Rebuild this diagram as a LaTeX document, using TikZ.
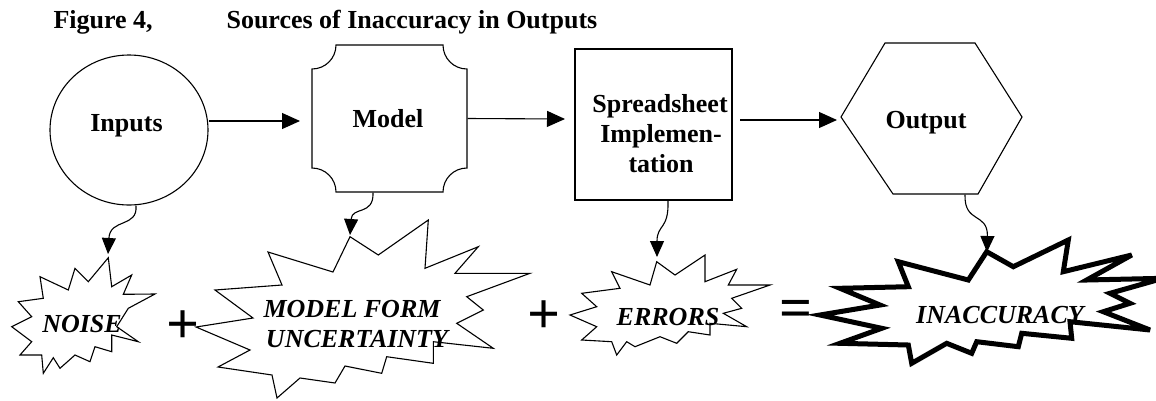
\documentclass[tikz,border=0pt]{standalone}
\usepackage{fontspec}
\setmainfont{Liberation Serif}
\usetikzlibrary{arrows.meta,shapes.geometric}
\begin{document}
\begin{tikzpicture}[x=1pt,y=-1pt,
  line width=1.1pt,
  lbl/.style={font=\fontsize{26}{30}\selectfont\bfseries, inner sep=0pt, anchor=base},
  starlbl/.style={font=\fontsize{26}{30}\selectfont\bfseries\itshape, inner sep=0pt, anchor=base},
  opsign/.style={font=\fontsize{58}{60}\selectfont\bfseries, inner sep=0pt},
  arr/.style={-{Triangle[length=18pt,width=16pt]}, line width=1.1pt},
  carr/.style={-{Triangle[length=16pt,width=14pt]}, line width=1.1pt},
  starline/.style={line width=1.1pt, line join=miter},
  boldstar/.style={line width=5pt, line join=miter, miter limit=6}]
\useasboundingbox (0,0) rectangle (1156,400);

% title
\node[lbl, anchor=base west] (fig) at (53,28) {Figure 4,};
\node[lbl, anchor=base west] (title) at (226,28) {Sources of Inaccuracy in Outputs};

% Inputs
\node[ellipse, draw, minimum width=158pt, minimum height=150pt, inner sep=0pt] (inputs) at (129,130) {};
\node[lbl] (inputsT) at (126.5,131) {Inputs};

% Model (concave corners)
\node[minimum width=155pt, minimum height=147pt, inner sep=0pt] (model) at (389.5,118.5) {};
\draw (336,45) -- (443,45) .. controls (443,58.3) and (453.7,69) .. (467,69)
  -- (467,168) .. controls (453.7,168) and (443,178.7) .. (443,192)
  -- (336,192) .. controls (336,178.7) and (325.3,168) .. (312,168)
  -- (312,69) .. controls (325.3,69) and (336,58.3) .. (336,45) -- cycle;
\node[lbl] (modelT) at (388,127) {Model};

% Spreadsheet
\node[draw, minimum width=157pt, minimum height=151pt, inner sep=0pt] (sheet) at (653.5,124.5) {};
\node[lbl] (sheetA) at (660,112) {Spreadsheet};
\node[lbl] (sheetB) at (661,142) {Implemen-};
\node[lbl] (sheetC) at (661,172) {tation};

% Output hexagon
\node[minimum width=181pt, minimum height=151pt, inner sep=0pt] (output) at (931.5,118.5) {};
\draw (841,117) -- (885,43) -- (975,43) -- (1022,117) -- (978,194) -- (893,194) -- cycle;
\node[lbl] (outputT) at (926,128) {Output};

% straight connectors
\coordinate (mIn) at (300,121);
\coordinate (sIn) at (565,119);
\coordinate (sOut) at (740,120);
\coordinate (oIn) at (837,120);
\draw[arr] ([yshift=9pt]inputs.east) -- (mIn);
\draw[arr] (model.east) -- (sIn);
\draw[arr] (sOut) -- (oIn);

% curved connectors
\coordinate (nTip) at (108,254);
\coordinate (mTip) at (350,235);
\coordinate (eTip) at (657,257);
\coordinate (iTip) at (987,252);
\draw[carr] ([xshift=7pt]inputs.south) .. controls (138,228) and (110,218) .. (nTip);
\draw[carr] ([xshift=-16.5pt]model.south) .. controls (374,216) and (352,206) .. (mTip);
\draw[carr] ([xshift=14.5pt]sheet.south) .. controls (669,230) and (657,224) .. (eTip);
\draw[carr] ([xshift=33.5pt]output.south) .. controls (964,224) and (988,212) .. (iTip);

% NOISE star
\draw[starline] (108.3,257.7) -- (111.7,286.7) -- (131.7,275) -- (123.3,294.3) -- (155,294)
  -- (128.3,308.3) -- (116.7,326.7) -- (138.3,341.7) -- (111.7,335) -- (111.7,351.7)
  -- (95,346.7) -- (90,361.7) -- (75,355) -- (60,368.3) -- (53.3,357.7) -- (43.3,373.3)
  -- (41.7,355) -- (20,355) -- (31.7,341.7) -- (11.7,326.7) -- (31.7,316.7) -- (18.3,301.7)
  -- (43.3,298.3) -- (40,276.7) -- (68.3,290) -- (75,268.3) -- (88.3,281.7) -- cycle;
\node[starlbl] (noise) at (82,332) {NOISE};

\node[opsign] (plusA) at (183,327) {+};

% MODEL FORM UNCERTAINTY star
\draw[starline] (350,236.7) -- (378.3,255) -- (428.3,220) -- (425,268.3) -- (478.3,246.7)
  -- (455,273.3) -- (530,273.3) -- (466.7,296.7) -- (483.3,310) -- (456.7,323.3)
  -- (493.3,348.3) -- (433.3,341.7) -- (433.3,363.3) -- (386.7,356.7) -- (381.7,373.3)
  -- (345,366) -- (335,383) -- (300,378) -- (277,398) -- (272,375) -- (218,367)
  -- (250,350) -- (196,327) -- (253,318) -- (215,290) -- (282,285) -- (268,252)
  -- (333,272) -- cycle;
\node[starlbl] (mfA) at (352,317) {MODEL FORM};
\node[starlbl] (mfB) at (357,347) {UNCERTAINTY};

\node[opsign] (plusB) at (544,317) {+};

% ERRORS star
\draw[starline] (656.7,261.7) -- (675,275) -- (705,255) -- (705,281.7) -- (736.7,269.3)
  -- (728.3,285) -- (770,285) -- (731.7,298.3) -- (741.7,308.3) -- (723.3,313.3)
  -- (746.7,326.7) -- (710,323.3) -- (710,335) -- (688.3,331.7) -- (676.7,343.3)
  -- (660,336.7) -- (635,346.7) -- (626.7,341.7) -- (616.7,355) -- (611.7,341.7)
  -- (581.7,340) -- (596.7,326.7) -- (570,315) -- (596.7,306.7) -- (581.7,293.3)
  -- (620,288.3) -- (611.7,271.7) -- (650,285) -- cycle;
\node[starlbl] (errors) at (668,325) {ERRORS};

\node[opsign] (equals) at (796,314) {=};

% INACCURACY star
\draw[boldstar] (986.7,251.7) -- (1013.3,266.7) -- (1068.3,240) -- (1063.3,271.7)
  -- (1131.7,255) -- (1086.7,280) -- (1163,278.3) -- (1110,293.3) -- (1130,303.3)
  -- (1103.3,311.7) -- (1150,330) -- (1070,321.7) -- (1071.7,338.3) -- (1021.7,333.3)
  -- (1018.3,346.7) -- (976.7,341.7) -- (971.7,353.3) -- (946.7,343.3) -- (911.7,363.3)
  -- (908.3,345) -- (840,343.3) -- (881.7,328.3) -- (820,315) -- (880,305)
  -- (840,288.3) -- (908.3,286.7) -- (898.3,261.7) -- (968.3,280) -- cycle;
\node[starlbl] (inacc) at (1000,323) {INACCURACY};
\end{tikzpicture}
\end{document}
